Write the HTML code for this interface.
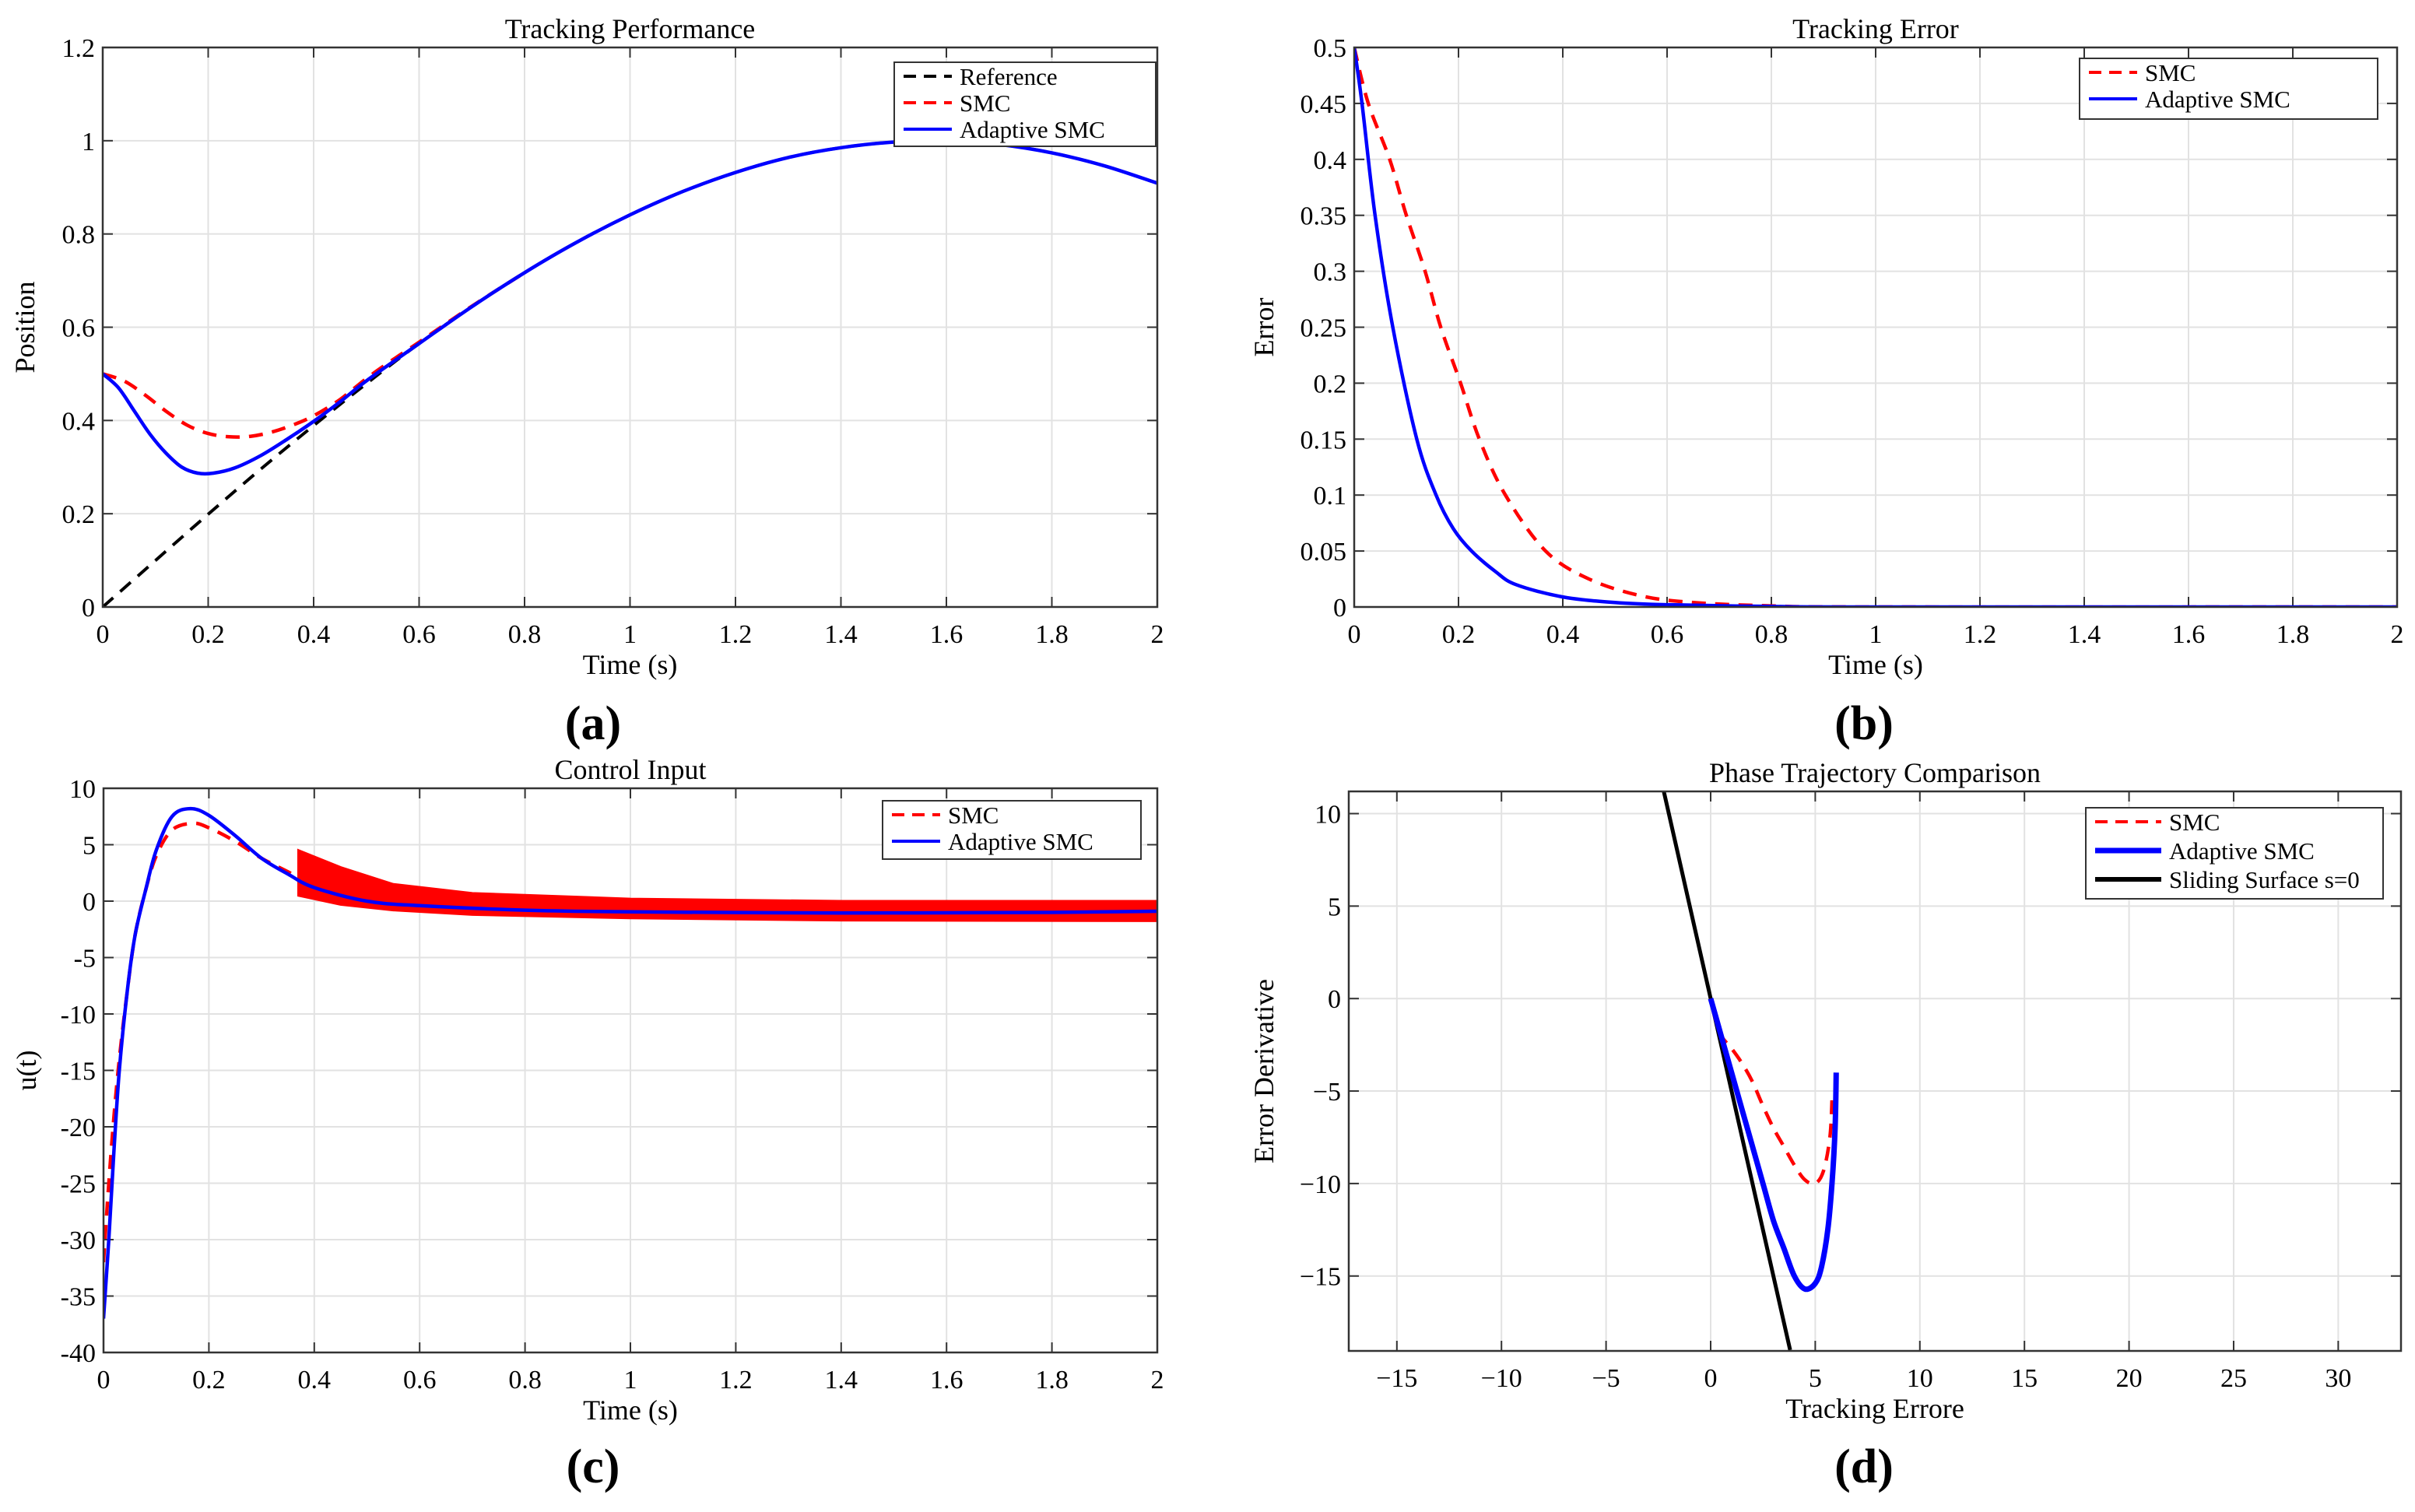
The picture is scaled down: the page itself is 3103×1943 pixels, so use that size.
<!DOCTYPE html>
<html><head><meta charset="utf-8"><style>
html,body{margin:0;padding:0;background:#fff}
svg{display:block;font-family:"Liberation Serif",serif}
</style></head><body>
<svg id="fig" width="3103" height="1943" viewBox="0 0 3103 1943" xmlns="http://www.w3.org/2000/svg">
<rect width="3103" height="1943" fill="#fff"/>
<text x="762" y="950" font-size="62" font-weight="bold" text-anchor="middle">(a)</text>
<text x="2395" y="950" font-size="62" font-weight="bold" text-anchor="middle">(b)</text>
<text x="762" y="1905" font-size="62" font-weight="bold" text-anchor="middle">(c)</text>
<text x="2395" y="1905" font-size="62" font-weight="bold" text-anchor="middle">(d)</text>
</svg>
<script>
// ---- Panel A data ----
const aRefT=[0,0.1,0.2,0.3,0.4,0.5,0.6,0.7,0.8,0.9,1.0,1.1,1.2,1.3,1.4,1.5,1.6,1.7,1.8,1.9,2.0];
const aRefY=[0,0.0998,0.199,0.296,0.389,0.479,0.565,0.644,0.717,0.783,0.841,0.891,0.932,0.964,0.985,0.997,1.0,0.992,0.974,0.946,0.909];
const aAdaT=[0,0.03,0.06,0.09,0.12,0.15,0.18,0.21,0.25,0.3,0.35,0.4,0.45,0.5,0.6,0.7,0.8,0.9,1.0,1.1,1.2,1.3,1.4,1.5,1.6,1.7,1.8,1.9,2.0];
const aAdaY=[0.5,0.47,0.42,0.37,0.33,0.30,0.287,0.287,0.298,0.325,0.36,0.398,0.44,0.485,0.565,0.644,0.717,0.783,0.841,0.891,0.932,0.964,0.985,0.997,1.0,0.992,0.974,0.946,0.909];
const aSmcT=[0,0.04,0.08,0.12,0.16,0.2,0.24,0.28,0.32,0.36,0.4,0.45,0.5,0.55,0.6,0.7,0.8];
const aSmcY=[0.5,0.485,0.455,0.42,0.39,0.372,0.365,0.366,0.375,0.39,0.41,0.445,0.49,0.53,0.568,0.645,0.717];
const aXTicks=[0,0.2,0.4,0.6,0.8,1,1.2,1.4,1.6,1.8,2];
const aYTicks=[0,0.2,0.4,0.6,0.8,1,1.2];
// ---- Panel B data ----
const bAdaT=[0,0.015,0.04,0.074,0.12,0.157,0.19,0.225,0.27,0.31,0.4,0.5,0.6,0.8,1.0,2.0];
const bAdaY=[0.5,0.45,0.35,0.25,0.15,0.1,0.07,0.05,0.032,0.02,0.009,0.004,0.002,0.0005,0,0];
const bSmcT=[0,0.027,0.068,0.1,0.136,0.166,0.204,0.24,0.29,0.367,0.45,0.55,0.65,0.8,1.0,2.0];
const bSmcY=[0.5,0.45,0.4,0.35,0.3,0.25,0.2,0.15,0.1,0.05,0.025,0.01,0.004,0.001,0,0];
const bXTicks=[0,0.2,0.4,0.6,0.8,1,1.2,1.4,1.6,1.8,2];
const bYTicks=[0,0.05,0.1,0.15,0.2,0.25,0.3,0.35,0.4,0.45,0.5];
// ---- Panel C data ----
const cAdaT=[0,0.01,0.02,0.03,0.045,0.06,0.08,0.1,0.13,0.165,0.2,0.25,0.3,0.35,0.4,0.5,0.6,0.8,1.0,1.4,1.8,2.0];
const cAdaY=[-37,-30,-22,-15,-8,-3,1,4.5,7.5,8.2,7.6,5.8,3.8,2.4,1.2,0.0,-0.4,-0.8,-0.95,-1.05,-1.0,-0.9];
const cSmcT=[0,0.01,0.02,0.03,0.045,0.06,0.08,0.1,0.13,0.17,0.2,0.25,0.3,0.35,0.37];
const cSmcY=[-32,-25,-19,-14,-8,-3,1,4,6.3,6.9,6.5,5.3,3.8,2.6,2.1];
const cBandT=[0.37,0.45,0.55,0.7,1.0,1.4,2.0];
const cBandHi=[4.5,3,1.5,0.7,0.2,0,0];
const cBandLo=[0.5,-0.3,-0.8,-1.2,-1.5,-1.7,-1.75];
const cXTicks=[0,0.2,0.4,0.6,0.8,1,1.2,1.4,1.6,1.8,2];
const cYTicks=[-40,-35,-30,-25,-20,-15,-10,-5,0,5,10];
// ---- Panel D data ----
const dSlideE=[-2.24,3.8];
const dSlideDe=[11.2,-19];
const dAdaE=[6,5.95,5.8,5.6,5.3,5.0,4.5,4.0,3.5,3,2.5,2,1.5,1,0.5,0];
const dAdaDe=[-4,-7,-10,-12.5,-14.5,-15.4,-15.7,-15,-13.5,-12,-10,-8,-6,-4,-2,0];
const dSmcE=[5.8,5.7,5.4,5,4.5,4,3.5,3,2.5,2,1.5,1,0.5,0.2,0];
const dSmcDe=[-5.5,-7.5,-9.3,-10,-9.8,-9,-8,-7,-5.8,-4.5,-3.5,-2.7,-2,-1,0];
const dXTicks=[-15,-10,-5,0,5,10,15,20,25,30];
const dYTicks=[-15,-10,-5,0,5,10];

const NS="http://www.w3.org/2000/svg";
const fig=document.getElementById('fig');
function mk(tag,attrs,parent){const e=document.createElementNS(NS,tag);for(const k in attrs)e.setAttribute(k,attrs[k]);(parent||fig).appendChild(e);return e;}
function lin(d0,d1,p0,p1){return v=>p0+(v-d0)/(d1-d0)*(p1-p0);}

function panel(p){
  const g=mk('g',{});
  
  
  const sx=lin(p.xmin,p.xmax,p.L,p.R), sy=lin(p.ymin,p.ymax,p.B,p.T);
  p.xt.forEach(v=>{const x=sx(v);
    const gl=mk('line',{x1:x,x2:x,y1:p.T,y2:p.B,stroke:'#e2e2e2','stroke-width':2},g);
    
    
    mk('line',{x1:x,x2:x,y1:p.B,y2:p.B-13,stroke:'#333','stroke-width':2},g);
    mk('line',{x1:x,x2:x,y1:p.T,y2:p.T+13,stroke:'#333','stroke-width':2},g);
    const t=mk('text',{x:x,y:p.B+46,'font-size':34,'text-anchor':'middle'},g);
    t.textContent=p.xfmt?p.xfmt(v):String(v);
    
    
  });
  p.yt.forEach(v=>{const y=sy(v);
    const gl=mk('line',{x1:p.L,x2:p.R,y1:y,y2:y,stroke:'#e2e2e2','stroke-width':2},g);
    
    
    mk('line',{x1:p.L,x2:p.L+13,y1:y,y2:y,stroke:'#333','stroke-width':2},g);
    mk('line',{x1:p.R,x2:p.R-13,y1:y,y2:y,stroke:'#333','stroke-width':2},g);
    const t=mk('text',{x:p.L-10,y:y+12,'font-size':34,'text-anchor':'end'},g);
    t.textContent=p.yfmt?p.yfmt(v):String(v);
    
    
  });
  const cp='clip-'+p.name;
  const cl=mk('clipPath',{id:cp},g);mk('rect',{x:p.L,y:p.T,width:p.R-p.L,height:p.B-p.T},cl);
  const sg=mk('g',{'clip-path':'url(#'+cp+')'},g);
  p.draw(sx,sy,sg);
  const box=mk('rect',{x:p.L,y:p.T,width:p.R-p.L,height:p.B-p.T,fill:'none',stroke:'#333','stroke-width':2.5},g);
  
  
  const ti=mk('text',{x:(p.L+p.R)/2,y:p.T-12,'font-size':36,'text-anchor':'middle'},g);
  ti.textContent=p.title;
  
  
  const xl=mk('text',{x:(p.L+p.R)/2,y:p.B+86,'font-size':36,'text-anchor':'middle'},g);
  xl.textContent=p.xlabel;
  
  
  const yl=mk('text',{x:0,y:0,'font-size':36,'text-anchor':'middle',transform:`translate(${p.ylx},${(p.T+p.B)/2}) rotate(-90)`},g);
  yl.textContent=p.ylabel;
  
  
  const lg=mk('g',{},g);
  
  
  mk('rect',{x:p.lg.x,y:p.lg.y,width:p.lg.w,height:p.lg.h,fill:'#fff',stroke:'#333','stroke-width':2},lg);
  p.lg.items.forEach((it,i)=>{const y=p.lg.y+18+i*p.lg.dy;
    mk('line',Object.assign({x1:p.lg.x+12,x2:p.lg.x+12+p.lg.ll,y1:y,y2:y,stroke:it.c,'stroke-width':it.w},it.dash?{'stroke-dasharray':it.dash}:{}),lg);
    const t=mk('text',{x:p.lg.x+22+p.lg.ll,y:y+11,'font-size':31},lg);
    t.textContent=it.t;
    
    
  });
}
function path(xs,ys,sx,sy,attrs,parent,name){
  const P=xs.map((x,i)=>[sx(x),sy(ys[i])]);
  let d='M'+P[0][0].toFixed(1)+' '+P[0][1].toFixed(1);
  for(let i=0;i<P.length-1;i++){
    const p0=P[Math.max(0,i-1)],p1=P[i],p2=P[i+1],p3=P[Math.min(P.length-1,i+2)];
    const c1=[p1[0]+(p2[0]-p0[0])/6,p1[1]+(p2[1]-p0[1])/6];
    const c2=[p2[0]-(p3[0]-p1[0])/6,p2[1]-(p3[1]-p1[1])/6];
    d+=` C${c1[0].toFixed(1)} ${c1[1].toFixed(1)} ${c2[0].toFixed(1)} ${c2[1].toFixed(1)} ${p2[0].toFixed(1)} ${p2[1].toFixed(1)}`;
  }
  const e=mk('path',Object.assign({d:d,fill:'none','stroke-linejoin':'round'},attrs),parent);
  
  
  return e;
}
panel({name:'tracking-performance',L:132,R:1487,T:61,B:780,xmin:0,xmax:2,ymin:0,ymax:1.2,xt:aXTicks,yt:aYTicks,
  title:'Tracking Performance',xlabel:'Time (s)',ylabel:'Position',ylx:44,
  lg:{x:1149,y:80,w:336,h:108,dy:34,ll:62,items:[{t:'Reference',c:'#000',w:4,dash:'16 10'},{t:'SMC',c:'#f00',w:4,dash:'16 10'},{t:'Adaptive SMC',c:'#00f',w:4}]},
  draw:(sx,sy,g)=>{
    path(aRefT,aRefY,sx,sy,{stroke:'#000','stroke-width':4,'stroke-dasharray':'18 12'},g,'reference-line');
    path(aSmcT,aSmcY,sx,sy,{stroke:'#f00','stroke-width':4.5,'stroke-dasharray':'18 12'},g,'smc-line');
    path(aAdaT,aAdaY,sx,sy,{stroke:'#00f','stroke-width':4.5},g,'adaptive-smc-line');
  }});
panel({name:'tracking-error',L:1740,R:3080,T:61,B:780,xmin:0,xmax:2,ymin:0,ymax:0.5,xt:bXTicks,yt:bYTicks,
  title:'Tracking Error',xlabel:'Time (s)',ylabel:'Error',ylx:1636,
  lg:{x:2672,y:75,w:383,h:78,dy:34,ll:62,items:[{t:'SMC',c:'#f00',w:4,dash:'16 10'},{t:'Adaptive SMC',c:'#00f',w:4}]},
  draw:(sx,sy,g)=>{
    path(bSmcT,bSmcY,sx,sy,{stroke:'#f00','stroke-width':4.5,'stroke-dasharray':'18 12'},g,'smc-error-line');
    path(bAdaT,bAdaY,sx,sy,{stroke:'#00f','stroke-width':4.5},g,'adaptive-smc-error-line');
  }});
panel({name:'control-input',L:133,R:1487,T:1013,B:1738,xmin:0,xmax:2,ymin:-40,ymax:10,xt:cXTicks,yt:cYTicks,
  title:'Control Input',xlabel:'Time (s)',ylabel:'u(t)',ylx:46,
  lg:{x:1134,y:1029,w:332,h:75,dy:34,ll:62,items:[{t:'SMC',c:'#f00',w:4,dash:'16 10'},{t:'Adaptive SMC',c:'#00f',w:4}]},
  draw:(sx,sy,g)=>{
    const pts=cBandT.map((t,i)=>sx(t)+','+sy(cBandHi[i])).concat(cBandT.slice().reverse().map((t,i)=>sx(t)+','+sy(cBandLo[cBandLo.length-1-i])));
    const band=mk('polygon',{points:pts.join(' '),fill:'#f00',stroke:'#f00','stroke-width':3},g);
    
    
    path(cSmcT,cSmcY,sx,sy,{stroke:'#f00','stroke-width':4.5,'stroke-dasharray':'18 12'},g,'smc-control-line');
    path(cAdaT,cAdaY,sx,sy,{stroke:'#00f','stroke-width':4.5},g,'adaptive-smc-control-line');
  }});
panel({name:'phase-trajectory',L:1733,R:3085,T:1017,B:1736,xmin:-17.3,xmax:33.0,ymin:-19.05,ymax:11.2,xt:dXTicks,yt:dYTicks,
  xfmt:v=>v<0?'\u2212'+(-v):String(v),yfmt:v=>v<0?'\u2212'+(-v):String(v),
  title:'Phase Trajectory Comparison',xlabel:'Tracking Errore',ylabel:'Error Derivative',ylx:1636,
  lg:{x:2680,y:1038,w:382,h:117,dy:37,ll:85,items:[{t:'SMC',c:'#f00',w:4,dash:'16 10'},{t:'Adaptive SMC',c:'#00f',w:7},{t:'Sliding Surface s=0',c:'#000',w:6}]},
  draw:(sx,sy,g)=>{
    path(dSlideE,dSlideDe,sx,sy,{stroke:'#000','stroke-width':5},g,'sliding-surface-line');
    path(dSmcE,dSmcDe,sx,sy,{stroke:'#f00','stroke-width':4.5,'stroke-dasharray':'18 12'},g,'smc-phase-line');
    path(dAdaE,dAdaDe,sx,sy,{stroke:'#00f','stroke-width':7},g,'adaptive-smc-phase-line');
  }});
</script>
</body></html>
